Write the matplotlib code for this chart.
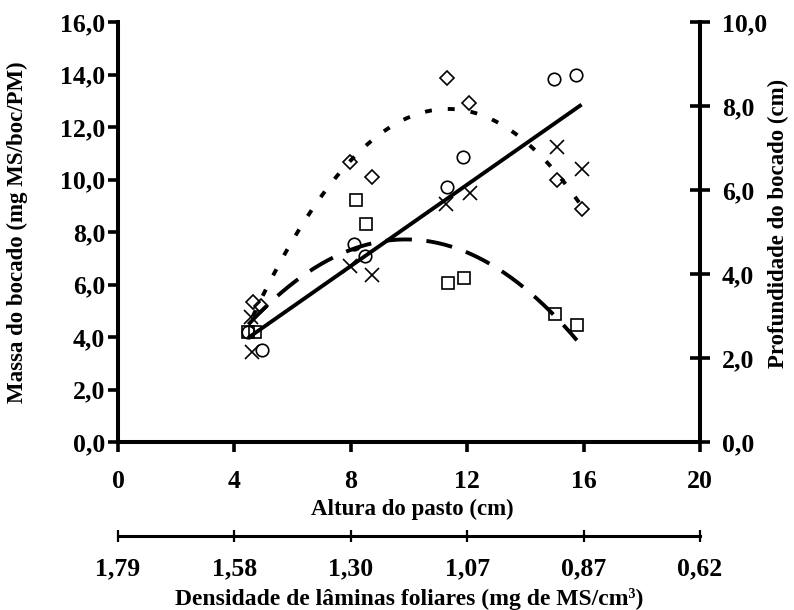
import numpy as np
import matplotlib
matplotlib.use("Agg")
import matplotlib.pyplot as plt
from matplotlib.transforms import blended_transform_factory

plt.rcParams['font.family'] = ['Liberation Serif', 'DejaVu Serif']
plt.rcParams['font.weight'] = 'bold'
plt.rcParams['lines.scale_dashes'] = False

# --- data ---
circ_x = [4.47, 4.94, 8.11, 8.49, 11.29, 11.84, 14.98, 15.74]
circ_y = [4.20, 3.50, 7.53, 7.07, 9.73, 10.87, 13.82, 13.98]
cross_x = [4.56, 4.59, 7.97, 8.72, 11.27, 12.10, 15.07, 15.93]
cross_y = [4.77, 3.44, 6.70, 6.36, 9.07, 9.47, 11.22, 10.39]
sq_x = [4.48, 4.71, 8.18, 8.52, 11.33, 11.88, 15.02, 15.77]
sq_y = [4.20, 4.20, 9.21, 8.29, 6.04, 6.26, 4.88, 4.47]
dia_x = [4.63, 4.90, 7.97, 8.72, 11.29, 12.07, 15.07, 15.93]
dia_y = [5.35, 5.18, 10.65, 10.11, 13.85, 12.90, 9.98, 8.86]

x_ticks = [0, 4, 8, 12, 16, 20]
left_ticks = [0, 2, 4, 6, 8, 10, 12, 14, 16]
right_ticks = [0, 2, 4, 6, 8, 10]
density_labels = ["1,79", "1,58", "1,30", "1,07", "0,87", "0,62"]

TFS = 18.5   # tick labels
LFS = 16.5   # axis titles
DFS = 17.0   # density title

def fmt(v):
    return f"{v:.1f}".replace('.', ',')

fig = plt.figure(figsize=(7.94, 6.10), dpi=100)
L, R, B, T = 118/794, 700/794, 1-442/610, 1-22/610
ax = fig.add_axes([L, B, R-L, T-B])
ax2 = ax.twinx()

ax.set_xlim(0, 20)
ax.set_ylim(0, 16)
ax2.set_ylim(0, 10)

# trend lines (fits of the plotted data, as spreadsheet trendlines)
cx = np.array(circ_x + cross_x); cy = np.array(circ_y + cross_y)
p1 = np.polyfit(cx, cy, 1)
xx = np.linspace(cx.min(), cx.max(), 100)
ax.plot(xx, np.polyval(p1, xx), color='black', lw=2.8, solid_capstyle='butt')

p2 = np.polyfit(dia_x, dia_y, 2)
xx = np.linspace(min(dia_x), max(dia_x), 200)
ax.plot(xx, np.polyval(p2, xx), color='black', lw=2.8, dashes=(5, 11.5))

p3 = np.polyfit(sq_x, sq_y, 2)
xx = np.linspace(min(sq_x), max(sq_x), 200)
ax.plot(xx, np.polyval(p3, xx), color='black', lw=2.8, dashes=(19, 10.5))

mk = dict(linestyle='none', markerfacecolor='none', markeredgecolor='black', markeredgewidth=1.2)
ax.plot(circ_x, circ_y, marker='o', markersize=9, **mk)
ax.plot(sq_x, sq_y, marker='s', markersize=8.5, **mk)
ax.plot(dia_x, dia_y, marker='D', markersize=7.5, **mk)
ax.plot(cross_x, cross_y, marker='x', markersize=9.5, color='black', linestyle='none', markeredgewidth=1.2)

# spines
for a in (ax, ax2):
    a.spines['top'].set_visible(False)
ax.spines['right'].set_visible(False)
ax2.spines['left'].set_visible(False)
ax2.spines['bottom'].set_visible(False)
ax.spines['left'].set_linewidth(2.9)
ax.spines['bottom'].set_linewidth(2.9)
ax2.spines['right'].set_linewidth(2.9)

ax.set_xticks(x_ticks)
ax.set_xticklabels([str(v) for v in x_ticks], fontsize=TFS, fontweight='bold')
ax.set_yticks(left_ticks)
ax.set_yticklabels([fmt(v) for v in left_ticks], fontsize=TFS, fontweight='bold')
ax2.set_yticks(right_ticks)
ax2.set_yticklabels([fmt(v) for v in right_ticks], fontsize=TFS, fontweight='bold')

ax.tick_params(axis='x', direction='out', length=7.2, width=2.6, pad=13)
ax.tick_params(axis='y', direction='out', length=7.2, width=2.6, pad=2)
ax2.tick_params(axis='y', direction='inout', length=14.4, width=2.6, pad=8.5)

ax.set_xlabel("Altura do pasto (cm)", fontsize=LFS, fontweight='bold')
ax.xaxis.set_label_coords(0.505, -0.136)
ax.set_ylabel("Massa do bocado (mg MS/boc/PM)", fontsize=LFS, fontweight='bold')
ax.yaxis.set_label_coords(-0.155, 0.5)
ax2.set_ylabel("Profundidade do bocado (cm)", fontsize=LFS, fontweight='bold')
ax2.yaxis.set_label_coords(1.117, 0.52)

# secondary x axis (leaf density)
ax3 = fig.add_axes([L, 1-536/610, R-L, 0.001])
ax3.set_xlim(0, 20)
ax3.patch.set_visible(False)
for s in ('top', 'left', 'right'):
    ax3.spines[s].set_visible(False)
ax3.spines['bottom'].set_linewidth(2.2)
ax3.set_yticks([])
ax3.set_xticks(x_ticks)
ax3.set_xticklabels(density_labels, fontsize=TFS, fontweight='bold')
ax3.tick_params(axis='x', direction='inout', length=8, width=1.6, pad=11)
ax3.set_xlabel("Densidade de lâminas foliares (mg de MS/cm³)", fontsize=DFS, fontweight='bold')
ax3.xaxis.set_label_coords(0.5, 1-588/610,
                           transform=blended_transform_factory(ax3.transAxes, fig.transFigure))

fig.savefig("out.png", dpi=100)
